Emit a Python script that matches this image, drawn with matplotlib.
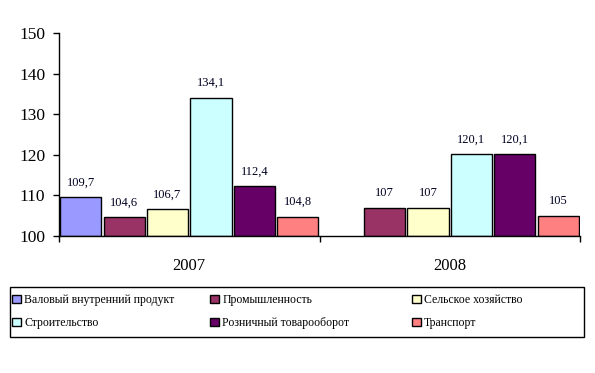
import matplotlib.pyplot as plt
import numpy as np

plt.rcParams['font.family'] = ['Liberation Serif', 'DejaVu Serif']

# data
years = ['2007', '2008']
series = ['Валовый внутренний продукт', 'Промышленность', 'Сельское хозяйство',
          'Строительство', 'Розничный товарооборот', 'Транспорт']
colors = ['#9999FF', '#993366', '#FFFFCC', '#CCFFFF', '#660066', '#FF8080']
gdp = [109.7, np.nan]
industry = [104.6, 107]
agriculture = [106.7, 107]
construction = [134.1, 120.1]
retail = [112.4, 120.1]
transport = [104.8, 105]
values = [gdp, industry, agriculture, construction, retail, transport]

W, H = 595, 373
fig = plt.figure(figsize=(W / 100, H / 100), dpi=100)
ax = fig.add_axes([59 / W, (H - 236) / H, (580 - 59) / W, (236 - 33) / H])

n = len(series)
bars = []
for i, (name, vals, col) in enumerate(zip(series, values, colors)):
    x = np.arange(len(years)) + (i + 0.5) / n
    v = np.array(vals, dtype=float)
    b = ax.bar(x, v - 100, bottom=100, width=0.158, color=col,
               edgecolor='black', linewidth=1.0, label=name)
    bars.append(b)
    for xi, vi in zip(x, v):
        if np.isnan(vi):
            continue
        txt = ('%g' % vi).replace('.', ',')
        ax.annotate(txt, (xi, vi), xytext=(0, 6), textcoords='offset points',
                    ha='center', va='bottom', fontsize=9, color='#000022')

ax.set_ylim(100, 150)
ax.set_xlim(0, len(years))
ax.set_yticks([100, 110, 120, 130, 140, 150])
ax.tick_params(axis='y', direction='out', length=4, width=1, labelsize=12.5, pad=6)
ax.set_xticks([0, 1, 2])
ax.set_xticklabels([])
ax.tick_params(axis='x', which='major', direction='out', length=4, width=1)
ax.set_xticks([0.5, 1.5], minor=True)
ax.set_xticklabels(years, minor=True, fontsize=12)
ax.tick_params(axis='x', which='minor', length=0, pad=16)
for s in ['top', 'right']:
    ax.spines[s].set_visible(False)
for s in ['left', 'bottom']:
    ax.spines[s].set_linewidth(1)

# legend frame and three columns
frame = plt.Rectangle((10 / W, (H - 337) / H), (584 - 10) / W, 50 / H,
                      transform=fig.transFigure, fill=False, edgecolor='black', linewidth=1)
fig.patches.append(frame)
col_x = [10, 208, 410]
for c in range(3):
    hs = [bars[c], bars[c + 3]]
    fig.legend(hs, [series[c], series[c + 3]], loc='upper left',
               bbox_to_anchor=(col_x[c] / W, (H - 292) / H), frameon=False,
               fontsize=8.5, handlelength=0.7, handleheight=0.7, handletextpad=0.3,
               labelspacing=0.9, borderaxespad=0, borderpad=0.2)

fig.savefig('out.png', dpi=100)
